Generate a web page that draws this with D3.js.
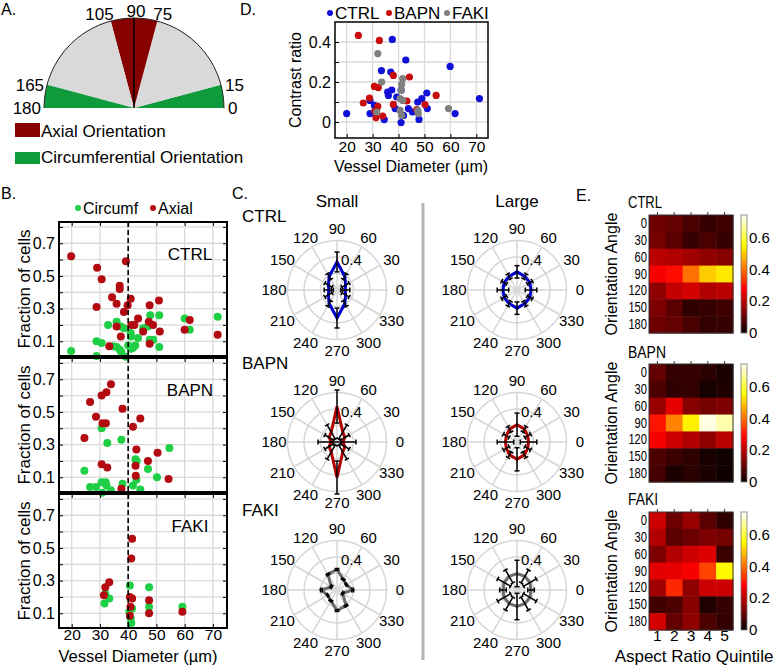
<!DOCTYPE html>
<html><head><meta charset="utf-8">
<script src="https://cdn.jsdelivr.net/npm/d3@7"></script>
<style>
body{margin:0;background:#fff}
svg{display:block}
text{font-family:'Liberation Sans',Arial,Helvetica,sans-serif;fill:#000}
</style>
</head><body>
<svg id="c" width="777" height="665"></svg>
<script>
// ================= DATA =================
// Panel A
const aTickAngles = [0, 15, 75, 90, 105, 165, 180];
const aSectorFrom = [0, 15, 75, 105, 165];
const aSectorTo   = [15, 75, 105, 165, 180];
const aSectorKind = ["circ", "other", "axial", "other", "circ"];
const aLegend = ["Axial Orientation", "Circumferential Orientation"];

// Panel B  [vessel diameter, fraction of cells]
const groups = ["CTRL", "BAPN", "FAKI"];
const bLegend = ["Circumf", "Axial"];
const bXTicks = [20, 30, 40, 50, 60, 70];
const bYGrid = [0.1, 0.2, 0.3, 0.4, 0.5, 0.6, 0.7, 0.8];
const bYLabels = [0.1, 0.3, 0.5, 0.7];
const ctrlCirc = [[32.9,0.2],[35.9,0.22],[37.4,0.19],[38.5,0.18],[40.9,0.15],[45.3,0.18],[47.8,0.26],[51.0,0.26],[60.0,0.24],[61.8,0.17],[71.7,0.25],[47.6,0.11],[48.9,0.11],[19.8,0.04],[28.8,0.10],[30.6,0.09],[28.8,0.01],[34.7,0.07],[35.9,0.065],[37.0,0.05],[37.6,0.035],[39.2,0.005],[40.0,0.075],[41.0,0.055],[41.0,0.13],[41.7,0.06],[42.5,0.075],[43.5,0.12],[51.0,0.065],[47.0,0.19]];
const ctrlAxial = [[19.8,0.62],[29.0,0.55],[30.6,0.48],[39.2,0.59],[34.3,0.37],[37.0,0.44],[37.0,0.42],[35.9,0.33],[39.8,0.32],[40.9,0.36],[28.8,0.31],[38.5,0.28],[47.6,0.32],[50.9,0.35],[35.9,0.19],[41.1,0.2],[42.2,0.2],[43.5,0.24],[47.3,0.22],[48.8,0.2],[51.2,0.16],[45.3,0.16],[37.4,0.13],[60.0,0.17],[61.8,0.23],[71.7,0.14],[33.3,0.07],[47.6,0.085]];
const bapnCirc = [[30.6,0.4],[37.6,0.33],[32.6,0.31],[54.6,0.28],[42.6,0.21],[43.0,0.2],[47.0,0.15],[24.5,0.14],[50.2,0.1],[26.5,0.04],[28.6,0.04],[30.6,0.07],[32.0,0.07],[32.3,0.05],[30.8,0.005],[33.9,0.02],[38.0,0.06],[41.7,0.05],[42.9,0.085],[44.3,0.025]];
const bapnAxial = [[33.9,0.67],[32.3,0.62],[30.6,0.6],[26.5,0.56],[38.0,0.52],[28.6,0.47],[30.9,0.43],[32.1,0.43],[44.3,0.46],[41.7,0.41],[24.5,0.34],[42.9,0.27],[50.4,0.25],[47.0,0.2],[42.6,0.17],[30.6,0.18],[32.6,0.16],[42.7,0.11],[54.3,0.09],[37.6,0.03]];
const fakiCirc = [[40.6,0.27],[47.4,0.26],[33.3,0.19],[31.6,0.16],[41.4,0.13],[47.4,0.14],[59.2,0.14],[40.9,0.07],[41.1,0.04],[40.4,0.11],[31.9,0.22]];
const fakiAxial = [[41.4,0.556],[41.1,0.435],[33.3,0.29],[31.9,0.26],[31.4,0.21],[40.6,0.2],[41.4,0.19],[40.8,0.14],[40.6,0.085],[47.4,0.18],[47.4,0.1],[59.2,0.11]];

// Panel D  [vessel diameter, contrast ratio]
const dLegend = ["CTRL", "BAPN", "FAKI"];
const dXTicks = [20, 30, 40, 50, 60, 70];
const dYGrid = [0, 0.1, 0.2, 0.3, 0.4];
const dYLabels = [0, 0.2, 0.4];
const dCtrl = [[20,0.042],[37.6,0.413],[42.8,0.31],[33.4,0.257],[37.0,0.25],[59.9,0.278],[71.2,0.117],[61.8,0.042],[29.0,0.042],[35.8,0.15],[37.4,0.16],[36.1,0.133],[39.3,0.125],[41.0,0.16],[29.0,0.108],[30.7,0.083],[38.7,0.067],[41.9,0.033],[34.5,0.012],[41.0,-0.003],[43.8,0.067],[45.4,0.05],[47.4,0.1],[49.0,0.117],[50.9,0.145],[51.1,0.067],[47.9,0.013],[31.5,0.06]];
const dBapn = [[24.5,0.433],[32.6,0.408],[38.0,0.233],[44.2,0.225],[30.7,0.178],[32.2,0.172],[28.8,0.12],[26.4,0.095],[38.0,0.088],[32.0,0.078],[43.2,0.105],[30.9,0.055],[31.3,0.022],[33.9,0.03],[47.0,0.062],[50.2,0.087],[54.5,0.133]];
const dFaki = [[32.0,0.342],[33.5,0.2],[41.6,0.217],[41.2,0.188],[41.0,0.158],[40.6,0.117],[41.6,0.108],[31.6,0.05],[40.6,0.058],[41.2,0.033],[47.4,0.058],[47.6,0.042],[59.3,0.067]];

// Panel C  (angles in degrees, values are fractions)
const polarAngles = [0, 30, 60, 90, 120, 150, 180, 210, 240, 270, 300, 330];
const polarRings = [0.2, 0.4, 0.6];
const polarSizes = ["Small", "Large"];
const smallCtrl    = [0.10,0.12,0.19,0.34,0.19,0.12,0.10,0.12,0.19,0.34,0.19,0.12];
const smallCtrlErr = [0.055,0.05,0.04,0.12,0.04,0.05,0.055,0.05,0.04,0.12,0.04,0.05];
const largeCtrl    = [0.17,0.18,0.19,0.22,0.19,0.18,0.17,0.18,0.19,0.22,0.19,0.18];
const largeCtrlErr = [0.07,0.035,0.035,0.075,0.035,0.035,0.07,0.035,0.035,0.075,0.035,0.035];
const smallBapn    = [0.07,0.11,0.14,0.43,0.14,0.11,0.07,0.11,0.14,0.43,0.14,0.11];
const smallBapnErr = [0.16,0.06,0.10,0.20,0.10,0.06,0.16,0.06,0.10,0.20,0.10,0.06];
const largeBapn    = [0.14,0.15,0.18,0.21,0.18,0.15,0.14,0.15,0.18,0.21,0.18,0.15];
const largeBapnErr = [0.10,0.04,0.04,0.14,0.04,0.04,0.10,0.04,0.04,0.14,0.04,0.04];
const smallFaki    = [0.19,0.13,0.15,0.25,0.22,0.08,0.19,0.13,0.15,0.25,0.22,0.08];
const smallFakiErr = [0.01,0.01,0.01,0.01,0.01,0.01,0.01,0.01,0.01,0.01,0.01,0.01];
const largeFaki    = [0.17,0.18,0.19,0.20,0.19,0.18,0.17,0.18,0.19,0.20,0.19,0.18];
const largeFakiErr = [0.04,0.09,0.09,0.16,0.09,0.09,0.04,0.09,0.09,0.16,0.09,0.09];

// Panel E  rows = orientation angle, cols = aspect ratio quintile
const heatRows = [0, 30, 60, 90, 120, 150, 180];
const heatCols = [1, 2, 3, 4, 5];
const cbTicks = [0, 0.2, 0.4, 0.6];
const heatCtrl = [
  [0.11,0.10,0.07,0.05,0.06],
  [0.12,0.09,0.05,0.07,0.05],
  [0.20,0.19,0.17,0.15,0.14],
  [0.27,0.29,0.40,0.50,0.53],
  [0.15,0.21,0.23,0.19,0.20],
  [0.13,0.09,0.04,0.05,0.06],
  [0.11,0.10,0.07,0.045,0.05]];
const heatBapn = [
  [0.10,0.045,0.05,0.035,0.015],
  [0.075,0.04,0.045,0.012,0.022],
  [0.16,0.25,0.14,0.12,0.13],
  [0.30,0.42,0.54,0.72,0.68],
  [0.27,0.22,0.19,0.15,0.20],
  [0.075,0.055,0.04,0.015,0.006],
  [0.065,0.02,0.035,0.02,0.005]];
const heatFaki = [
  [0.22,0.11,0.16,0.09,0.04],
  [0.19,0.09,0.11,0.13,0.12],
  [0.13,0.19,0.22,0.24,0.055],
  [0.245,0.25,0.27,0.35,0.55],
  [0.17,0.32,0.15,0.22,0.22],
  [0.06,0.075,0.14,0.025,0.05],
  [0.23,0.10,0.15,0.075,0.045]];

// ================= DRAWING =================
const FONT = "'Liberation Sans', Arial, Helvetica, sans-serif";
const rad = Math.PI / 180;
const svg = d3.select("#c");
svg.append("rect").attr("width", 777).attr("height", 665).attr("fill", "#fff");

function label(g, x, y, s, size, anchor) {
  return g.append("text").attr("x", x).attr("y", y).attr("font-size", size)
    .attr("text-anchor", anchor || "start").text(s);
}
function styleAxis(a, size) {
  a.attr("font-size", size).attr("font-family", FONT);
  a.select(".domain").remove();
  a.selectAll("text").attr("fill", "#000");
}

// panel letters
[["A.", 1, 15], ["D.", 240, 15], ["B.", 1, 199], ["C.", 232, 199], ["E.", 576, 201]]
  .forEach(p => label(svg, p[1], p[2], p[0], 16));

// ---------- PANEL A ----------
(function () {
  const cx = 134, cy = 108, R = 90;
  const col = { axial: "#870000", circ: "#0f9a3c", other: "#d9d9d9" };
  const g = svg.append("g").attr("transform", `translate(${cx},${cy})`);
  const arc = d3.arc().innerRadius(0).outerRadius(R);
  const sectors = aSectorFrom.map((f, i) => ({ from: f, to: aSectorTo[i], kind: aSectorKind[i] }));
  g.selectAll("path.sec").data(sectors).join("path")
    .attr("d", d => arc({ startAngle: (90 - d.to) * rad, endAngle: (90 - d.from) * rad }))
    .attr("fill", d => col[d.kind]);
  const p = d3.path(); p.moveTo(R, 0); p.arc(0, 0, R, 0, -Math.PI, true);
  g.append("path").attr("d", p.toString()).attr("fill", "none").attr("stroke", "#222").attr("stroke-width", 1);
  g.append("line").attr("x1", 0).attr("y1", 0).attr("x2", 0).attr("y2", -R).attr("stroke", "#000").attr("stroke-width", 1.5);
  aTickAngles.forEach(a => {
    const px = R * Math.cos(a * rad), py = -R * Math.sin(a * rad);
    let x = px, y = py, anchor = "middle";
    if (a < 30) { x = px + 4; y = py + 6; anchor = "start"; }
    else if (a > 150) { x = px - 3; y = py + 6; anchor = "end"; }
    else if (a < 90) { x = px - 4; y = py - 1; anchor = "start"; }
    else if (a > 90) { x = px + 3; y = py - 1; anchor = "end"; }
    else { x = px + 2; y = py - 1; }
    label(g, x, y, String(a), 17, anchor);
  });
  const legCol = [col.axial, col.circ];
  aLegend.forEach((s, i) => {
    svg.append("rect").attr("x", 15).attr("y", 123 + i * 29).attr("width", 25).attr("height", i ? 12 : 14).attr("fill", legCol[i]);
    label(svg, 41, 137 + i * 26, s, 17);
  });
})();

// ---------- PANEL B ----------
(function () {
  const x = d3.scaleLinear().domain([15.5, 75]).range([59, 227]);
  const tops = [222, 358, 494], h = 134;
  const data = [[ctrlCirc, ctrlAxial], [bapnCirc, bapnAxial], [fakiCirc, fakiAxial]];
  const colors = ["#1fcf45", "#b30a12"];
  tops.forEach((top, i) => {
    const y = d3.scaleLinear().domain([0.01, 0.83]).range([top + h, top]);
    const g = svg.append("g");
    g.selectAll("line.gy").data(bYGrid).join("line")
      .attr("x1", 59).attr("x2", 227).attr("y1", d => y(d)).attr("y2", d => y(d))
      .attr("stroke", "#dadada").attr("stroke-width", 1.3);
    g.selectAll("line.gx").data(bXTicks).join("line")
      .attr("y1", top).attr("y2", top + h).attr("x1", d => x(d)).attr("x2", d => x(d))
      .attr("stroke", "#dadada").attr("stroke-width", 1.3);
    data[i].forEach((ser, k) => {
      g.selectAll(null).data(ser).join("circle")
        .attr("cx", d => x(d[0])).attr("cy", d => y(d[1])).attr("r", 4).attr("fill", colors[k]);
    });
    g.append("g").attr("transform", "translate(59,0)")
      .call(d3.axisLeft(y).tickValues(bYGrid).tickSizeInner(-4).tickSizeOuter(0).tickPadding(4)
        .tickFormat(v => bYLabels.includes(v) ? d3.format(".1f")(v) : ""))
      .call(a => styleAxis(a, 16));
    g.append("g").attr("transform", "translate(227,0)")
      .call(d3.axisRight(y).tickValues(bYGrid).tickSizeInner(-4).tickSizeOuter(0).tickFormat(""))
      .call(a => styleAxis(a, 16));
    g.append("g").attr("transform", `translate(0,${top})`)
      .call(d3.axisTop(x).tickValues(bXTicks).tickSizeInner(-4).tickSizeOuter(0).tickFormat(""))
      .call(a => styleAxis(a, 16));
    if (i === 2) {
      g.append("g").attr("transform", `translate(0,${top + h})`)
        .call(d3.axisBottom(x).tickValues(bXTicks).tickSizeInner(-4).tickSizeOuter(0).tickPadding(1))
        .call(a => styleAxis(a, 15.5));
    }
    g.append("rect").attr("x", 59).attr("y", top).attr("width", 168).attr("height", h)
      .attr("fill", "none").attr("stroke", "#000").attr("stroke-width", 2);
    label(g, 190, top + 38, groups[i], 17, "middle");
    g.append("text").attr("transform", `translate(30,${top + h / 2}) rotate(-90)`)
      .attr("text-anchor", "middle").attr("font-size", 17).text("Fraction of cells");
  });
  svg.append("line").attr("x1", x(40)).attr("x2", x(40)).attr("y1", 222).attr("y2", 628)
    .attr("stroke", "#000").attr("stroke-width", 1.6).attr("stroke-dasharray", "5,3");
  label(svg, 138, 662, "Vessel Diameter (µm)", 16.5, "middle");
  const lx = [78, 153];
  bLegend.forEach((s, k) => {
    svg.append("circle").attr("cx", lx[k]).attr("cy", 208).attr("r", 3).attr("fill", colors[k]);
    label(svg, lx[k] + 5, 214, s, 16);
  });
})();

// ---------- PANEL D ----------
(function () {
  const x = d3.scaleLinear().domain([15.5, 74.5]).range([335, 488]);
  const y = d3.scaleLinear().domain([-0.08, 0.5]).range([138, 22]);
  const g = svg.append("g");
  g.selectAll("line.gy").data(dYGrid).join("line")
    .attr("x1", 335).attr("x2", 488).attr("y1", d => y(d)).attr("y2", d => y(d))
    .attr("stroke", "#dadada").attr("stroke-width", 1.3);
  g.selectAll("line.gx").data(dXTicks).join("line")
    .attr("y1", 22).attr("y2", 138).attr("x1", d => x(d)).attr("x2", d => x(d))
    .attr("stroke", "#dadada").attr("stroke-width", 1.3);
  const sets = [dCtrl, dBapn, dFaki], colors = ["#1010d8", "#c80c0c", "#7f7f7f"];
  sets.forEach((ser, k) => {
    g.selectAll(null).data(ser).join("circle")
      .attr("cx", d => x(d[0])).attr("cy", d => y(d[1])).attr("r", 3.6).attr("fill", colors[k]);
  });
  g.append("g").attr("transform", "translate(335,0)")
    .call(d3.axisLeft(y).tickValues(dYGrid).tickSizeInner(-4).tickSizeOuter(0).tickPadding(4)
      .tickFormat(v => dYLabels.includes(v) ? (v === 0 ? "0" : d3.format(".1f")(v)) : ""))
    .call(a => styleAxis(a, 16));
  g.append("g").attr("transform", "translate(0,138)")
    .call(d3.axisBottom(x).tickValues(dXTicks).tickSizeInner(-4).tickSizeOuter(0).tickPadding(3))
    .call(a => styleAxis(a, 15.5));
  g.append("rect").attr("x", 335).attr("y", 22).attr("width", 153).attr("height", 116)
    .attr("fill", "none").attr("stroke", "#000").attr("stroke-width", 1.5);
  g.append("text").attr("transform", "translate(301,80) rotate(-90)").attr("text-anchor", "middle")
    .attr("font-size", 16).text("Contrast ratio");
  label(g, 411, 172, "Vessel Diameter (µm)", 16, "middle");
  const lx = [330, 389, 447];
  dLegend.forEach((s, k) => {
    svg.append("circle").attr("cx", lx[k]).attr("cy", 13).attr("r", 3).attr("fill", colors[k]);
    label(svg, lx[k] + 5, 19, s, 17);
  });
})();

// ---------- PANEL C ----------
(function () {
  const sets = [[smallCtrl, smallCtrlErr, largeCtrl, largeCtrlErr],
                [smallBapn, smallBapnErr, largeBapn, largeBapnErr],
                [smallFaki, smallFakiErr, largeFaki, largeFakiErr]];
  const colors = ["#0000cc", "#b00000", "#6a6a6a"];
  const r = d3.scaleLinear().domain([0, 0.6]).range([0, 49.5]);
  const cxs = [337, 517], cys = [290, 442, 590];
  svg.append("line").attr("x1", 423).attr("x2", 423).attr("y1", 203).attr("y2", 660)
    .attr("stroke", "#b5b5b5").attr("stroke-width", 3);
  polarSizes.forEach((s, ci) => label(svg, cxs[ci], 207, s, 17, "middle"));
  groups.forEach((grp, gi) => {
    label(svg, 242, [222, 369, 516][gi], grp, 17);
    [0, 1].forEach(ci => {
      const vals = sets[gi][ci * 2], errs = sets[gi][ci * 2 + 1];
      const g = svg.append("g").attr("transform", `translate(${cxs[ci]},${cys[gi]})`);
      g.selectAll("line.sp").data(polarAngles).join("line")
        .attr("x1", 0).attr("y1", 0)
        .attr("x2", a => r(0.6) * Math.cos(a * rad)).attr("y2", a => -r(0.6) * Math.sin(a * rad))
        .attr("stroke", "#d6d6d6").attr("stroke-width", 1.5);
      g.selectAll("circle.ring").data(polarRings).join("circle")
        .attr("r", d => r(d)).attr("fill", "none").attr("stroke", "#d6d6d6").attr("stroke-width", 1.5);
      g.selectAll("text.ang").data(polarAngles).join("text")
        .attr("x", a => 63 * Math.cos(a * rad)).attr("y", a => -61 * Math.sin(a * rad))
        .attr("dy", "0.36em").attr("text-anchor", "middle").attr("font-size", 15).text(a => a);
      label(g, 4, -25, "0.4", 15);
      const line = d3.lineRadial().angle((d, i) => (90 - polarAngles[i]) * rad)
        .radius(d => r(d)).curve(d3.curveLinearClosed);
      g.append("path").attr("d", line(vals)).attr("fill", "none")
        .attr("stroke", colors[gi]).attr("stroke-width", 3).attr("stroke-linejoin", "miter");
      polarAngles.forEach((a, i) => {
        const c = Math.cos(a * rad), sn = -Math.sin(a * rad);
        const lo = r(Math.max(0, vals[i] - errs[i])), hi = r(vals[i] + errs[i]);
        g.append("line").attr("x1", lo * c).attr("y1", lo * sn).attr("x2", hi * c).attr("y2", hi * sn)
          .attr("stroke", "#000").attr("stroke-width", 1.5);
        const px = -sn, py = c, cap = 2.5;
        [lo, hi].forEach(rr => {
          if (rr <= 0.5) return;
          g.append("line").attr("x1", rr * c - cap * px).attr("y1", rr * sn - cap * py)
            .attr("x2", rr * c + cap * px).attr("y2", rr * sn + cap * py)
            .attr("stroke", "#000").attr("stroke-width", 1.5);
        });
      });
    });
  });
})();

// ---------- PANEL E ----------
(function () {
  const data = [heatCtrl, heatBapn, heatFaki];
  const tops = [215, 364, 512], h = 118;
  const x = d3.scaleBand().domain(heatCols).range([649, 733]);
  const vmax = 0.74;
  const hot = d3.scaleLinear().domain([0, vmax * 3 / 8, vmax * 6 / 8, vmax])
    .range(["#0b0000", "#ff0000", "#ffff00", "#ffffff"]).clamp(true);
  const defs = svg.append("defs");
  const grad = defs.append("linearGradient").attr("id", "hotgrad")
    .attr("x1", 0).attr("y1", 1).attr("x2", 0).attr("y2", 0);
  [0, 3 / 8, 6 / 8, 1].forEach(t => grad.append("stop").attr("offset", t).attr("stop-color", hot(t * vmax)));
  tops.forEach((top, i) => {
    const y = d3.scaleBand().domain(heatRows).range([top, top + h]);
    const g = svg.append("g");
    const cells = [];
    heatRows.forEach((rw, ri) => heatCols.forEach((cl, ci) => cells.push({ rw, cl, v: data[i][ri][ci] })));
    g.selectAll("rect.cell").data(cells).join("rect")
      .attr("x", d => x(d.cl)).attr("y", d => y(d.rw))
      .attr("width", x.bandwidth() + 0.5).attr("height", y.bandwidth() + 0.5)
      .attr("fill", d => hot(d.v));
    g.append("rect").attr("x", 649).attr("y", top).attr("width", 84).attr("height", h)
      .attr("fill", "none").attr("stroke", "#333").attr("stroke-width", 1);
    g.selectAll("line.tt").data(heatCols).join("line")
      .attr("x1", d => x(d) + x.bandwidth() / 2).attr("x2", d => x(d) + x.bandwidth() / 2)
      .attr("y1", top).attr("y2", top - 3).attr("stroke", "#333");
    g.append("g").attr("transform", "translate(648,0)")
      .call(d3.axisLeft(y).tickSize(0).tickPadding(1))
      .call(a => styleAxis(a, 14.5))
      .call(a => a.selectAll("text")
        .attr("textLength", function () { return this.textContent.length * 6.2; })
        .attr("lengthAdjust", "spacingAndGlyphs"));
    if (i === 2) {
      g.append("g").attr("transform", `translate(0,${top + h})`)
        .call(d3.axisBottom(x).tickSize(0).tickPadding(0))
        .call(a => styleAxis(a, 15.5));
      label(g, 694, 662, "Aspect Ratio Quintile", 17, "middle");
    }
    label(g, 628, [208, 358, 505][i], groups[i], 16).attr("textLength", [34, 38, 30][i]).attr("lengthAdjust", "spacingAndGlyphs");
    g.append("text").attr("transform", `translate(617,${top + h / 2}) rotate(-90)`)
      .attr("text-anchor", "middle").attr("font-size", 16).text("Orientation Angle");
    const cb = d3.scaleLinear().domain([0, vmax]).range([top + h, top]);
    g.append("rect").attr("x", 741).attr("y", top).attr("width", 6).attr("height", h)
      .attr("fill", "url(#hotgrad)").attr("stroke", "#777").attr("stroke-width", 0.8);
    g.append("g").attr("transform", "translate(747,0)")
      .call(d3.axisRight(cb).tickValues(cbTicks).tickSize(0).tickPadding(2)
        .tickFormat(v => v === 0 ? "0" : d3.format(".1f")(v)))
      .call(a => styleAxis(a, 15));
  });
})();
</script>
</body></html>
